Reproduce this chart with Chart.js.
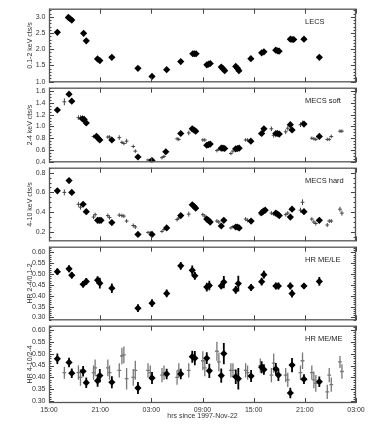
<!DOCTYPE html>
<html><head><meta charset="utf-8">
<script src="https://cdn.jsdelivr.net/npm/chart.js@4.4.0/dist/chart.umd.min.js"></script>
<style>
html,body{margin:0;padding:0;background:#fff;width:372px;height:436px;overflow:hidden;position:relative}
canvas{position:absolute;left:0}
</style></head><body>
<canvas id="p1"></canvas><canvas id="p2"></canvas><canvas id="p3"></canvas><canvas id="p4"></canvas><canvas id="p5"></canvas>
<script>
// ---- data (hours since 1997-Nov-22 00:00) ----
const lecsHours = [15.98,17.27,17.47,17.67,19.06,19.37,20.69,20.96,22.37,25.43,27.08,28.80,30.45,31.86,32.06,32.25,33.51,33.71,33.91,35.20,35.40,35.60,36.90,37.10,37.27,38.67,39.94,40.20,41.59,41.82,41.98,43.30,43.50,43.70,44.90,46.70];
const lecsRate  = [2.52,2.98,2.94,2.90,2.49,2.26,1.70,1.65,1.75,1.41,1.16,1.37,1.62,1.86,1.86,1.86,1.52,1.54,1.56,1.45,1.40,1.34,1.47,1.41,1.34,1.71,1.89,1.92,1.97,1.95,1.94,2.31,2.30,2.30,2.31,1.75];

const softHours = [15.98,17.35,17.67,18.92,19.12,19.37,20.57,20.76,20.96,22.37,25.43,27.08,28.70,30.45,31.80,32.00,32.20,33.50,33.70,33.90,35.20,35.40,35.60,36.90,37.10,37.30,38.67,39.94,40.20,41.60,41.80,42.00,43.30,43.50,44.90,46.70];
const softRate  = [1.28,1.55,1.43,1.13,1.12,1.06,0.83,0.80,0.77,0.77,0.48,0.42,0.57,0.88,0.96,0.94,0.92,0.68,0.69,0.70,0.63,0.63,0.625,0.62,0.625,0.63,0.75,0.88,0.96,0.88,0.88,0.87,1.03,0.94,1.04,0.83];

const hardHours = [15.98,17.35,17.67,19.00,19.37,20.70,20.90,21.10,22.37,25.43,27.08,28.80,30.45,31.80,32.00,32.20,33.50,33.70,33.90,35.20,35.50,36.90,37.10,37.30,38.70,39.94,40.15,40.35,41.60,41.80,42.00,43.30,43.50,44.90,46.70];
const hardRate  = [0.616,0.72,0.60,0.48,0.405,0.317,0.317,0.317,0.295,0.175,0.175,0.24,0.365,0.475,0.46,0.44,0.33,0.317,0.30,0.26,0.317,0.25,0.25,0.24,0.31,0.395,0.41,0.42,0.39,0.38,0.365,0.35,0.43,0.405,0.317];

// MECS-only bins (thin crosses)
const binHours = [16.80,18.45,18.69,20.22,20.41,21.90,22.10,23.24,23.55,23.78,24.10,24.88,25.12,26.61,26.88,28.25,28.49,30.02,30.22,31.39,33.04,33.27,34.69,34.92,36.33,36.57,38.06,38.29,39.78,41.08,41.35,42.76,43.00,44.49,44.73,45.82,46.06,46.29,47.63,47.86,48.10,49.12,49.35];
const softBin    = [1.42,1.15,1.15,0.83,0.83,0.82,0.82,0.81,0.73,0.71,0.75,0.66,0.58,0.43,0.44,0.47,0.49,0.79,0.78,0.89,0.77,0.77,0.59,0.61,0.54,0.58,0.77,0.77,0.87,0.96,0.85,0.91,0.97,1.03,1.06,0.80,0.79,0.78,0.78,0.78,0.83,0.92,0.92];
const softBinErr = [0.06,0.04,0.04,0.03,0.03,0.03,0.03,0.04,0.03,0.03,0.04,0.03,0.03,0.02,0.02,0.03,0.03,0.03,0.03,0.04,0.03,0.03,0.03,0.03,0.03,0.03,0.03,0.03,0.03,0.04,0.04,0.04,0.04,0.04,0.04,0.03,0.03,0.03,0.03,0.03,0.03,0.03,0.03];
const hardBin    = [0.60,0.48,0.45,0.35,0.375,0.365,0.345,0.37,0.365,0.36,0.31,0.265,0.25,0.195,0.195,0.205,0.225,0.325,0.34,0.38,0.375,0.36,0.31,0.30,0.24,0.255,0.33,0.317,0.38,0.39,0.38,0.375,0.39,0.42,0.50,0.33,0.30,0.285,0.27,0.31,0.31,0.43,0.39];
const hardBinErr = [0.03,0.025,0.025,0.02,0.02,0.02,0.02,0.02,0.02,0.02,0.02,0.02,0.02,0.015,0.015,0.015,0.015,0.02,0.02,0.025,0.02,0.02,0.02,0.02,0.015,0.015,0.02,0.02,0.02,0.02,0.02,0.02,0.02,0.025,0.03,0.02,0.02,0.02,0.02,0.02,0.02,0.025,0.025];
const hrMeBin    = [0.42,0.42,0.40,0.42,0.44,0.44,0.42,0.43,0.49,0.495,0.395,0.40,0.43,0.43,0.42,0.41,0.42,0.40,0.43,0.43,0.47,0.44,0.51,0.465,0.43,0.43,0.43,0.42,0.45,0.41,0.46,0.41,0.39,0.42,0.47,0.42,0.39,0.375,0.34,0.41,0.37,0.465,0.425];
const hrMeBinErr = [0.025,0.03,0.035,0.03,0.035,0.035,0.03,0.03,0.035,0.035,0.045,0.035,0.04,0.03,0.03,0.03,0.03,0.03,0.03,0.03,0.04,0.035,0.04,0.04,0.03,0.03,0.03,0.03,0.03,0.03,0.04,0.03,0.03,0.03,0.035,0.03,0.035,0.035,0.03,0.03,0.03,0.025,0.03];

// hardness ratios at the LECS epochs (filled diamonds)
const hrHours  = [15.98,17.35,17.67,19.00,19.37,20.70,20.96,22.37,25.43,27.08,28.80,30.45,31.80,32.10,33.50,33.80,35.20,35.50,36.90,37.20,38.70,39.94,40.20,41.60,41.90,43.30,43.50,44.90,46.70];
const hrLe     = [0.511,0.524,0.495,0.453,0.466,0.472,0.458,0.435,0.343,0.366,0.411,0.538,0.517,0.492,0.440,0.447,0.445,0.463,0.427,0.456,0.438,0.465,0.497,0.445,0.445,0.445,0.410,0.445,0.466];
const hrLeErr  = [0.015,0.016,0.015,0.015,0.016,0.018,0.025,0.022,0.018,0.018,0.018,0.018,0.022,0.018,0.020,0.022,0.015,0.028,0.018,0.036,0.016,0.018,0.018,0.016,0.016,0.016,0.018,0.014,0.020];
const hrMe     = [0.478,0.463,0.418,0.426,0.378,0.386,0.408,0.380,0.356,0.398,0.415,0.415,0.487,0.481,0.481,0.428,0.408,0.500,0.403,0.395,0.406,0.443,0.433,0.436,0.410,0.335,0.452,0.393,0.382];
const hrMeErr  = [0.022,0.020,0.020,0.022,0.022,0.025,0.028,0.025,0.025,0.025,0.022,0.022,0.025,0.030,0.025,0.030,0.030,0.045,0.030,0.045,0.025,0.025,0.022,0.025,0.025,0.022,0.030,0.020,0.022];

const xTicks = [15,21,27,33,39,45,51];

// ---- rendering ----
const FONT = "'Liberation Sans', Arial, Helvetica, sans-serif";
const TXT = '#333';
const pts = (xs, ys) => xs.map((x, i) => ({x, y: ys[i]}));

const errPlugin = {
  id: 'errbars',
  beforeDatasetsDraw(chart) {
    const {ctx, chartArea: a, scales: {x, y}} = chart;
    ctx.save();
    ctx.beginPath(); ctx.rect(a.left, a.top, a.right - a.left, a.bottom - a.top); ctx.clip();
    chart.data.datasets.forEach(ds => {
      if (!ds.yErr) return;
      ctx.strokeStyle = ds.errColor; ctx.lineWidth = ds.errWidth;
      ds.data.forEach((p, i) => {
        const px = x.getPixelForValue(p.x);
        const y0 = y.getPixelForValue(p.y - ds.yErr[i]);
        const y1 = y.getPixelForValue(p.y + ds.yErr[i]);
        ctx.beginPath(); ctx.moveTo(px, y0); ctx.lineTo(px, y1);
        if (ds.xErr) {
          const py = y.getPixelForValue(p.y);
          ctx.moveTo(x.getPixelForValue(p.x - ds.xErr), py);
          ctx.lineTo(x.getPixelForValue(p.x + ds.xErr), py);
        }
        ctx.stroke();
      });
    });
    ctx.restore();
  }
};

const framePlugin = {
  id: 'frame',
  afterDraw(chart, args, o) {
    const {ctx, chartArea: a, scales: {x, y}} = chart;
    ctx.save();
    ctx.strokeStyle = '#444'; ctx.lineWidth = 1;
    ctx.beginPath();
    const k0 = Math.ceil(y.min / o.minor - 1e-6), k1 = Math.floor(y.max / o.minor + 1e-6);
    for (let k = k0; k <= k1; k++) {
      const v = k * o.minor;
      const r = v / o.step;
      const major = Math.abs(r - Math.round(r)) < 1e-6;
      const len = major ? 5 : 2.5;
      const py = Math.round(y.getPixelForValue(v)) + 0.5;
      ctx.moveTo(a.left, py); ctx.lineTo(a.left + len, py);
      ctx.moveTo(a.right, py); ctx.lineTo(a.right - len, py);
    }
    xTicks.forEach(v => {
      const px = Math.round(x.getPixelForValue(v)) + 0.5;
      ctx.moveTo(px, a.top); ctx.lineTo(px, a.top + 5);
      ctx.moveTo(px, a.bottom); ctx.lineTo(px, a.bottom - 5);
    });
    ctx.stroke();
    ctx.strokeStyle = '#555'; ctx.lineWidth = 1.3;
    ctx.strokeRect(a.left + 0.5, a.top + 0.5, a.right - a.left - 1, a.bottom - a.top - 1);
    ctx.fillStyle = '#222';
    ctx.font = '7.5px ' + FONT;
    ctx.textBaseline = 'middle'; ctx.textAlign = 'left';
    ctx.fillText(o.label, 305, a.top + 13);
    ctx.restore();
  }
};

function crossSet(xs, ys, errs, color, width) {
  return {data: pts(xs, ys), yErr: errs, xErr: 0.22, errColor: color, errWidth: width, pointRadius: 0, pointHoverRadius: 0};
}
function diamondSet(xs, ys, errs) {
  return {data: pts(xs, ys), yErr: errs || null, errColor: '#000', errWidth: 1.8,
    pointStyle: 'rectRot', pointRadius: 3.6, pointHoverRadius: 3.6,
    backgroundColor: '#000', borderColor: '#000', borderWidth: 0};
}

const panels = [
  {id: 'p1', top: 6, bottom: 85, min: 0.98, max: 3.25, step: 0.5, minor: 0.1, dec: 1,
   title: '0.1-2 keV cts/s', label: 'LECS',
   datasets: [diamondSet(lecsHours, lecsRate)]},
  {id: 'p2', top: 85, bottom: 165, min: 0.39, max: 1.66, step: 0.2, minor: 0.05, dec: 1,
   title: '2-4 keV cts/s', label: 'MECS soft',
   datasets: [crossSet(binHours, softBin, softBinErr, '#444', 1), diamondSet(softHours, softRate)]},
  {id: 'p3', top: 165, bottom: 244, min: 0.105, max: 0.85, step: 0.2, minor: 0.05, dec: 1,
   title: '4-10 keV cts/s', label: 'MECS hard',
   datasets: [crossSet(binHours, hardBin, hardBinErr, '#444', 1), diamondSet(hardHours, hardRate)]},
  {id: 'p4', top: 244, bottom: 323, min: 0.287, max: 0.626, step: 0.05, minor: 0.01, dec: 2,
   title: 'HR 2-4/0.1-2', label: 'HR ME/LE',
   datasets: [diamondSet(hrHours, hrLe, hrLeErr)]},
  {id: 'p5', top: 323, bottom: 403, min: 0.293, max: 0.617, step: 0.05, minor: 0.01, dec: 2,
   title: 'HR 4-10/2-4', label: 'HR ME/ME',
   datasets: [crossSet(binHours, hrMeBin, hrMeBinErr, '#777', 1.3), diamondSet(hrHours, hrMe, hrMeErr)]}
];

Chart.defaults.font.family = FONT;
Chart.defaults.font.size = 7;
Chart.defaults.color = TXT;

panels.forEach((p, idx) => {
  const last = idx === panels.length - 1;
  const cv = document.getElementById(p.id);
  const padTop = 5, padBot = last ? 0 : 5, xH = 17;
  cv.width = 372;
  cv.height = (p.bottom - p.top) + padTop + (last ? xH : padBot);
  cv.style.top = (p.top - padTop) + 'px';
  new Chart(cv, {
    type: 'scatter',
    data: {datasets: p.datasets},
    options: {
      responsive: false, animation: false, devicePixelRatio: 1,
      layout: {padding: {top: padTop, bottom: padBot, left: 0, right: 16}},
      plugins: {legend: {display: false}, tooltip: {enabled: false},
        frame: {label: p.label, step: p.step, minor: p.minor}},
      scales: {
        x: {type: 'linear', min: 15, max: 51, display: last,
          afterBuildTicks: s => { s.ticks = xTicks.map(v => ({value: v})); },
          ticks: {autoSkip: false, maxRotation: 0, padding: 3, color: TXT,
            callback: v => String(((v % 24) + 24) % 24).padStart(2, '0') + ':00'},
          grid: {display: false, drawTicks: false}, border: {display: false},
          title: {display: last, text: 'hrs since 1997-Nov-22', padding: {top: 0, bottom: 0}, color: TXT},
          afterFit: s => { s.height = last ? xH : 0; }},
        y: {type: 'linear', min: p.min, max: p.max,
          ticks: {stepSize: p.step, includeBounds: false, padding: 3.5, color: TXT,
            callback: v => Number(v).toFixed(p.dec)},
          grid: {display: false, drawTicks: false}, border: {display: false},
          title: {display: true, text: p.title, padding: {top: 25.8, bottom: 0}, color: TXT},
          afterFit: s => { s.width = 49; }}
      }
    },
    plugins: [errPlugin, framePlugin]
  });
});
</script>
</body></html>
